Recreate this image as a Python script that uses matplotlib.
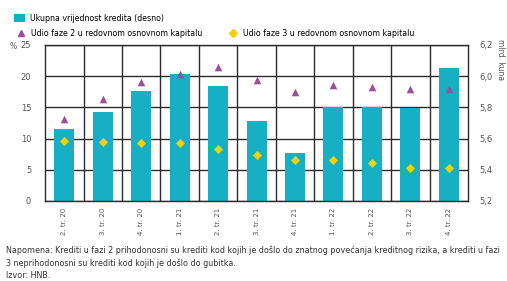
import matplotlib.pyplot as plt
from matplotlib.lines import Line2D
from matplotlib.patches import Patch

plt.rcParams['font.family'] = ['Liberation Sans Narrow', 'DejaVu Sans']

quarters = ["2. tr. 20", "3. tr. 20", "4. tr. 20", "1. tr. 21", "2. tr. 21", "3. tr. 21",
            "4. tr. 21", "1. tr. 22", "2. tr. 22", "3. tr. 22", "4. tr. 22"]
total_loans = [5.66, 5.77, 5.905, 6.015, 5.935, 5.71, 5.51, 5.80, 5.80, 5.795, 6.055]
stage2_share = [13.1, 16.4, 19.0, 20.3, 21.4, 19.4, 17.5, 18.6, 18.2, 17.9, 18.0]
stage3_share = [9.6, 9.5, 9.3, 9.3, 8.4, 7.3, 6.6, 6.5, 6.0, 5.3, 5.3]

teal = "#16AFC4"
purple = "#9A4F9C"
yellow = "#F3D000"
gridc = "#2b2b2b"

fig = plt.figure(figsize=(5.07, 2.81), dpi=100)
ax = fig.add_axes([0.089, 0.285, 0.834, 0.555])
x = list(range(len(quarters)))

# bars on the right scale
ax.bar(x, [v - 5.2 for v in total_loans], bottom=5.2, width=0.52, color=teal, zorder=2)
ax.set_ylim(5.2, 6.2)
ax.set_yticks([5.2, 5.4, 5.6, 5.8, 6.0, 6.2])
ax.set_yticklabels(["5,2", "5,4", "5,6", "5,8", "6,0", "6,2"])
ax.set_xlim(-0.5, len(quarters) - 0.5)
ax.set_xticks(x)
ax.set_xticklabels(quarters, rotation=90, fontsize=5, color="#555555")
ax.set_xticks([i + 0.5 for i in x[:-1]], minor=True)
ax.grid(True, which="minor", axis="x", color=gridc, lw=1.0, zorder=0)
ax.grid(True, which="major", axis="y", color=gridc, lw=1.0, zorder=0)
ax.set_axisbelow(True)
for s in ax.spines.values():
    s.set_color(gridc)
    s.set_linewidth(1.0)

# markers on the left scale
ax2 = ax.twinx()
ax2.scatter(x, stage2_share, marker="^", s=30, color=purple, zorder=4, linewidths=0)
ax2.scatter(x, stage3_share, marker="D", s=22, color=yellow, zorder=4, linewidths=0)
ax2.set_ylim(0, 25)
ax2.set_yticks([0, 5, 10, 15, 20, 25])
ax2.yaxis.tick_left()
ax.yaxis.tick_right()
ax2.tick_params(axis="y", length=0, labelsize=6, colors="#555555", pad=10)
ax.tick_params(axis="y", which="both", length=0, labelsize=6, colors="#555555", pad=8)
ax.tick_params(axis="x", which="both", length=0, labelsize=5, colors="#555555", pad=5)
for s in ax2.spines.values():
    s.set_visible(False)

fig.text(0.018, 0.836, "%", fontsize=5.5, color="#555555", va="center")
fig.text(0.978, 0.86, "mlrd. kuna", fontsize=5.5, color="#555555", rotation=270,
         va="top", ha="left")

# legend
handles1 = [Patch(facecolor=teal, label="Ukupna vrijednost kredita (desno)")]
fig.legend(handles=handles1, loc="upper left", bbox_to_anchor=(0.02, 0.965), frameon=False,
           fontsize=5.7, handlelength=1.4, handleheight=1.3, handletextpad=0.6, borderpad=0)
handles2 = [Line2D([], [], marker="^", ls="", color=purple, markersize=5,
                   label="Udio faze 2 u redovnom osnovnom kapitalu"),
            Line2D([], [], marker="D", ls="", color=yellow, markersize=4,
                   label="Udio faze 3 u redovnom osnovnom kapitalu")]
fig.legend(handles=handles2, loc="upper left", bbox_to_anchor=(0.022, 0.912), frameon=False,
           fontsize=5.7, ncol=2, columnspacing=3.2, handlelength=1.4, handletextpad=0.6,
           borderpad=0)

note = ("Napomena: Krediti u fazi 2 prihodonosni su krediti kod kojih je došlo do znatnog povećanja "
        "kreditnog rizika, a krediti u fazi\n3 neprihodonosni su krediti kod kojih je došlo do gubitka.\n"
        "Izvor: HNB.")
fig.text(0.012, 0.125, note, fontsize=5.8, color="#333333", va="top", linespacing=1.4)

fig.savefig("out.png", dpi=100)
